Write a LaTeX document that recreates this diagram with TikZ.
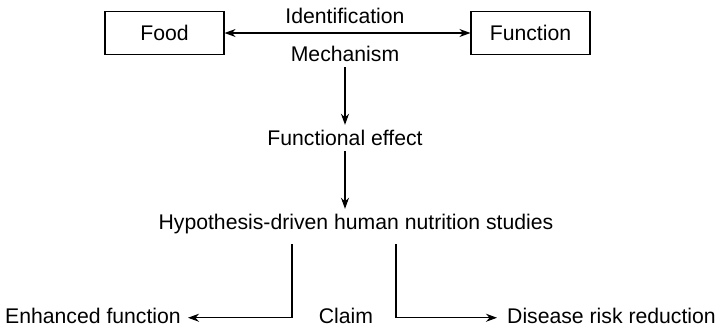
\documentclass[tikz,border=0pt]{standalone}
\usepackage{fontspec}
\setmainfont{Liberation Sans}
\usetikzlibrary{arrows.meta}
\begin{document}
\begin{tikzpicture}[x=1pt,y=-1pt,
  every node/.style={font=\fontsize{21.2}{25}\selectfont},
  txt/.style={inner sep=0pt,text height=15pt,text depth=4.5pt,anchor=base},
  boxnode/.style={draw,line width=1.1pt,inner sep=0pt,minimum width=119pt,minimum height=42.5pt,text height=15pt,text depth=0pt},
  link/.style={line width=1.1pt},
  tip/.tip={Stealth[length=11pt,width=8pt,inset=3.5pt]},
  arr/.style={link,-tip},
  darr/.style={link,tip-tip}]
  \useasboundingbox (0,0) rectangle (717,333);

  % top row: the two boxes and the link between them
  \node[boxnode] (food) at (164.5,33) {Food};
  \node[boxnode] (func) at (530.5,33) {Function};
  \node[txt] (ident) at (345,23.3) {Identification};
  \node[txt] (mech) at (345,61.7) {Mechanism};
  \draw[darr] (food.east) -- (func.west);

  % central chain
  \node[txt] (feff) at (345,145) {Functional effect};
  \node[txt] (hyp) at (356,229) {Hypothesis-driven human nutrition studies};
  \draw[arr] ([yshift=-1pt]mech.south) -- ([yshift=5pt]feff.north);
  \draw[arr] ([yshift=-1.5pt]feff.south) -- ([yshift=5pt]feff.south |- hyp.north);

  % outcomes
  \node[txt] (claim) at (346,323) {Claim};
  \node[txt,anchor=base east] (enh) at (181,323) {Enhanced function};
  \node[txt,anchor=base west] (drr) at (507,323) {Disease risk reduction};
  \coordinate (lsplit) at (292,244);
  \coordinate (rsplit) at (396,244);
  \draw[arr] (lsplit) |- ([xshift=7pt]enh.east);
  \draw[arr] (rsplit) |- ([xshift=-10pt]drr.west);
\end{tikzpicture}
\end{document}
